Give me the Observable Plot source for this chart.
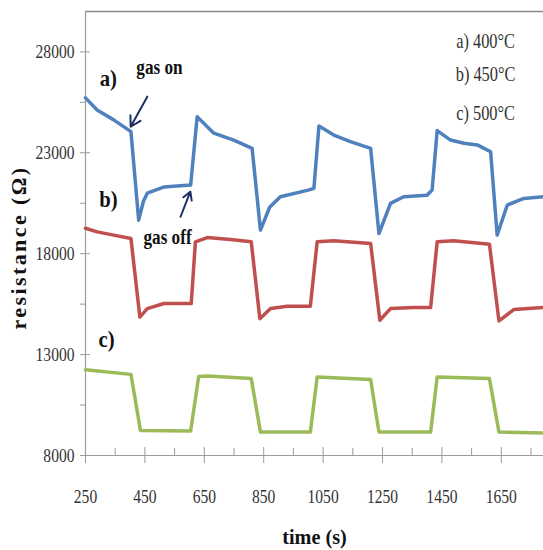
<!DOCTYPE html>
<html>
<head>
<meta charset="utf-8">
<script src="https://cdn.jsdelivr.net/npm/d3@7"></script>
<script src="https://cdn.jsdelivr.net/npm/@observablehq/plot@0.6"></script>
<style>
  html, body { margin: 0; padding: 0; background: #fff; }
  #chart svg { display: block; }
</style>
</head>
<body>
<div id="chart"></div>
<script>
// ---- data ----
const timeA = [250, 289, 345, 403, 429, 445, 458, 513, 604, 626, 682, 749, 811, 839, 870, 906, 1000, 1019, 1036, 1086, 1142, 1210, 1238, 1277, 1321, 1400, 1417, 1434, 1479, 1524, 1569, 1614, 1636, 1670, 1726, 1792];
const resA  = [25720, 25120, 24630, 24050, 19660, 20600, 21000, 21300, 21400, 24790, 23970, 23630, 23220, 19170, 20300, 20820, 21150, 21240, 24330, 23880, 23550, 23220, 19000, 20490, 20820, 20900, 21150, 24100, 23630, 23470, 23390, 23050, 18920, 20410, 20740, 20820];

const timeB = [250, 289, 345, 403, 433, 458, 514, 606, 620, 660, 738, 808, 837, 873, 929, 1007, 1030, 1086, 1210, 1241, 1277, 1355, 1412, 1434, 1490, 1610, 1642, 1692, 1792];
const resB  = [19260, 19080, 18920, 18750, 14860, 15280, 15530, 15530, 18590, 18800, 18700, 18590, 14780, 15280, 15400, 15400, 18590, 18640, 18510, 14700, 15280, 15330, 15330, 18590, 18640, 18470, 14670, 15230, 15330];

const timeC = [250, 403, 435, 604, 631, 660, 808, 839, 1007, 1030, 1210, 1238, 1412, 1434, 1610, 1642, 1792];
const resC  = [12250, 12020, 9240, 9210, 11920, 11940, 11810, 9160, 9160, 11890, 11760, 9160, 9160, 11890, 11810, 9160, 9110];

const seriesNames  = ["a", "b", "c"];
const seriesColors = ["#4f81bd", "#c0504d", "#9bbb59"];

const xMajorTicks = [250, 450, 650, 850, 1050, 1250, 1450, 1650];
const xMinorTicks = [350, 550, 750, 950, 1150, 1350, 1550, 1750];
const yMajorTicks = [8000, 13000, 18000, 23000, 28000];
const yMinorTicks = [10500, 15500, 20500, 25500];

const legendLabels = ["a) 400°C", "b) 450°C", "c) 500°C"];
const legendT = [1597, 1597, 1597];
const legendV = [28520, 26860, 24920];

const curveLabels = ["a)", "b)", "c)"];
const curveLabelT = [327, 327, 321];
const curveLabelV = [26660, 20660, 13760];

const gasLabels = ["gas on", "gas off"];
const gasLabelT = [499, 526];
const gasLabelV = [27230, 18820];

const arrowT1 = [458, 570];
const arrowV1 = [25780, 19830];
const arrowT2 = [402, 603];
const arrowV2 = [24290, 21070];

const xTitle = "time (s)";
const yTitle = "resistance (Ω)";

// ---- build table ----
const rows = [];
[[timeA, resA], [timeB, resB], [timeC, resC]].forEach(([ts, vs], i) => {
  ts.forEach((t, j) => rows.push({series: seriesNames[i], t, v: vs[j]}));
});
const legendRows = legendLabels.map((s, i) => ({s, t: legendT[i], v: legendV[i]}));
const curveRows = curveLabels.map((s, i) => ({s, t: curveLabelT[i], v: curveLabelV[i]}));
const gasRows = gasLabels.map((s, i) => ({s, t: gasLabelT[i], v: gasLabelV[i]}));
const arrowRows = arrowT1.map((t, i) => ({t1: t, v1: arrowV1[i], t2: arrowT2[i], v2: arrowV2[i]}));

const serif = "'Liberation Serif', 'Times New Roman', serif";
const axisGray = "#9a9a9a";

const chart = Plot.plot({
  width: 543,
  height: 550,
  marginLeft: 85,
  marginRight: 0,
  marginTop: 11,
  marginBottom: 95,
  style: {fontFamily: serif, background: "#fff"},
  x: {domain: [250, 1792], axis: null},
  y: {domain: [8000, 30000], axis: null},
  color: {domain: seriesNames, range: seriesColors},
  marks: [
    // frame lines
    Plot.ruleY([30000], {stroke: "#8a8a8a", strokeWidth: 1.5}),
    Plot.ruleY([8000], {stroke: axisGray, strokeWidth: 1.2}),
    Plot.ruleX([250], {stroke: axisGray, strokeWidth: 1.2}),
    // x axis: major crossing ticks, minor inward ticks, labels
    Plot.axisX({ticks: xMajorTicks, tickSize: 16, dy: -8, tickFormat: () => "", stroke: axisGray, label: null}),
    Plot.axisX({ticks: xMinorTicks, tickSize: 7, dy: -7, tickFormat: () => "", stroke: axisGray, label: null}),
    Plot.axisX({ticks: xMajorTicks, tickSize: 0, tickPadding: 34, fontSize: 19, fill: "#333", label: null, tickFormat: d => String(d)}),
    // y axis: major crossing ticks, minor outward ticks, labels
    Plot.axisY({ticks: yMajorTicks, tickSize: 10, dx: 5, tickFormat: () => "", stroke: axisGray, label: null}),
    Plot.axisY({ticks: yMinorTicks, tickSize: 5, tickFormat: () => "", stroke: axisGray, label: null}),
    Plot.axisY({ticks: yMajorTicks, tickSize: 0, tickPadding: 11, fontSize: 19, fill: "#333", label: null, tickFormat: d => String(d)}),
    // axis titles
    Plot.text([xTitle], {frameAnchor: "bottom", textAnchor: "middle", dy: 88, fontSize: 22, fontWeight: "bold", fill: "#111"}),
    Plot.text([yTitle], {frameAnchor: "left", textAnchor: "middle", dx: -67, dy: 14, rotate: -90, fontSize: 22, fontWeight: "bold", fill: "#111"}),
    // data
    Plot.line(rows, {x: "t", y: "v", z: "series", stroke: "series", strokeWidth: 3.5, strokeLinejoin: "round"}),
    // annotations
    Plot.text(curveRows, {x: "t", y: "v", text: "s", fontSize: 23, fontWeight: "bold", fill: "#111"}),
    Plot.text(gasRows, {x: "t", y: "v", text: "s", fontSize: 22, fontWeight: "bold", fill: "#111"}),
    Plot.arrow(arrowRows, {x1: "t1", y1: "v1", x2: "t2", y2: "v2", stroke: "#1c2f66", strokeWidth: 2, headLength: 10}),
    Plot.text(legendRows, {x: "t", y: "v", text: "s", fontSize: 20, fill: "#333"})
  ]
});
document.getElementById("chart").appendChild(chart);

// Condense the serif glyphs horizontally (narrow type as in the reference),
// scaling each text about its own anchor point, leaving its position untouched.
const squeeze = new Map();
xMajorTicks.concat(yMajorTicks).forEach(d => squeeze.set(String(d), 0.82));
legendLabels.forEach(s => squeeze.set(s, 0.82));
gasLabels.forEach(s => squeeze.set(s, 0.78));
squeeze.set(xTitle, 0.92);
curveLabels.forEach(s => squeeze.set(s, 0.9));
d3.select(chart).selectAll("text").each(function () {
  if (this.textContent === yTitle) {
    this.style.letterSpacing = "2.4px";
    return;
  }
  const k = squeeze.get(this.textContent);
  if (!k) return;
  const b = this.getBBox();
  const anchor = getComputedStyle(this).textAnchor;
  const cx = anchor === "end" ? b.x + b.width : anchor === "start" ? b.x : b.x + b.width / 2;
  const t = this.getAttribute("transform") || "";
  this.setAttribute("transform", `${t} translate(${cx},0) scale(${k},1) translate(${-cx},0)`);
});
</script>
</body>
</html>
